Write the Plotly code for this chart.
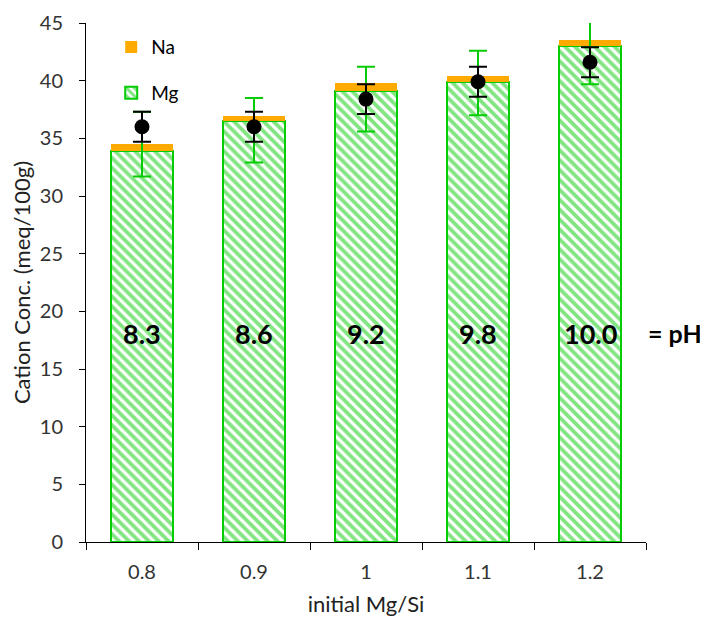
import plotly.graph_objects as go

categories = ["0.8", "0.9", "1", "1.1", "1.2"]
mg_values = [33.9, 36.5, 39.1, 39.9, 43.0]
na_values = [0.6, 0.4, 0.7, 0.5, 0.5]
green_center = [34.5, 35.7, 38.4, 39.8, 42.5]
green_err = [2.8, 2.8, 2.8, 2.8, 2.8]
dot_values = [36.0, 36.0, 38.4, 39.9, 41.6]
dot_err = [1.3, 1.3, 1.3, 1.3, 1.3]
ph_labels = ["8.3", "8.6", "9.2", "9.8", "10.0"]
ph_label_y = 18.1

GREEN = "#05CC05"
ORANGE = "#FFAA00"
FONT = "Lato"

fig = go.Figure()
fig.add_trace(go.Bar(
    x=categories, y=mg_values, name="Mg", legendgroup="mg", legendrank=2,
    marker=dict(color="white", line=dict(color=GREEN, width=2),
                pattern=dict(shape="\\", fgcolor=GREEN, bgcolor="white",
                             size=7, solidity=0.55, fillmode="overlay")),
))
fig.add_trace(go.Bar(
    x=categories, y=na_values, name="Na", legendgroup="na", legendrank=1,
    marker=dict(color=ORANGE, line=dict(width=0)),
))
fig.add_trace(go.Scatter(
    x=categories, y=green_center, mode="markers", showlegend=False,
    marker=dict(size=1, color="rgba(0,0,0,0)"),
    error_y=dict(type="data", array=green_err, color=GREEN, thickness=2, width=9),
))
fig.add_trace(go.Scatter(
    x=categories, y=dot_values, mode="markers", showlegend=False,
    marker=dict(size=15, color="black"),
    error_y=dict(type="data", array=dot_err, color="black", thickness=2, width=9),
))

for i, t in enumerate(ph_labels):
    fig.add_annotation(x=i, y=ph_label_y, text="<b>%s</b>" % t, showarrow=False,
                       font=dict(family=FONT, size=27, color="black"))
fig.add_annotation(x=1.052, y=ph_label_y, xref="paper", yref="y", text="<b>= pH</b>",
                   xanchor="center", showarrow=False,
                   font=dict(family=FONT, size=25, color="black"))

fig.update_layout(
    width=700, height=610,
    margin=dict(l=78, r=62, t=15, b=76, autoexpand=False),
    barmode="stack", bargap=0.45,
    plot_bgcolor="white", paper_bgcolor="white",
    font=dict(family=FONT, color="#333333", size=19),
    legend=dict(x=0.045, y=0.99, xanchor="left", yanchor="top",
                traceorder="grouped", tracegroupgap=18,
                font=dict(size=19, color="black"), bgcolor="rgba(0,0,0,0)"),
    showlegend=True,
)
fig.update_xaxes(
    type="category", range=[-0.5, 4.5], showline=True, linecolor="black", linewidth=1,
    ticks="outside", tickson="boundaries", ticklen=7, tickcolor="black",
    showgrid=False, ticklabelstandoff=12, automargin=False,
    title=dict(text="initial Mg/Si", font=dict(size=22, color="#222222"), standoff=14),
    tickfont=dict(size=20, color="#333333"),
)
fig.update_yaxes(
    range=[0, 45], dtick=5, showline=True, linecolor="black", linewidth=1,
    ticks="outside", ticklen=6, tickcolor="black", showgrid=False,
    zeroline=False, ticklabelstandoff=12, automargin=False,
    title=dict(text="Cation Conc. (meq/100g)", font=dict(size=22, color="#222222"), standoff=12),
    tickfont=dict(size=20, color="#333333"),
)

fig.write_html("out.html")
